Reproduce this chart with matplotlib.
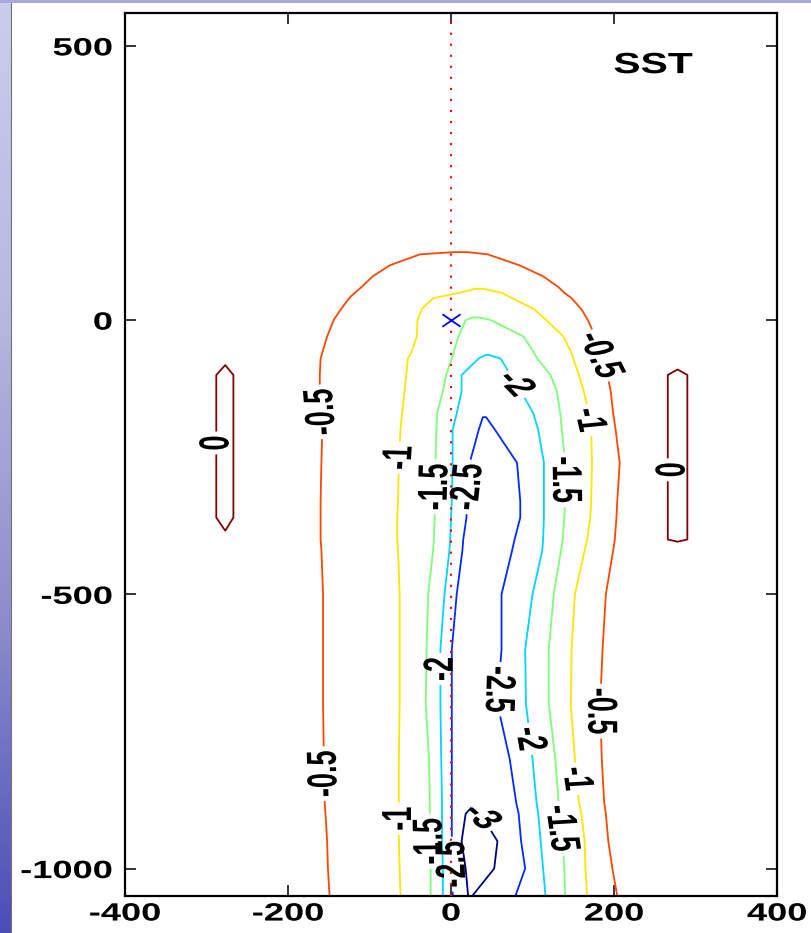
import numpy as np
import matplotlib
matplotlib.use("Agg")
import matplotlib.pyplot as plt
from matplotlib.patheffects import AbstractPathEffect
from matplotlib.transforms import Affine2D
from matplotlib.path import Path
from matplotlib.colors import LinearSegmentedColormap
from matplotlib.lines import Line2D

plt.rcParams["font.family"] = "Liberation Sans"
plt.rcParams["axes.unicode_minus"] = False

nan = np.nan

# along-track distance of each cross-track profile (km), top to bottom
row_y = [560, 128, 120, 100, 80, 60, 50, 40, 20, 0, -30, -60, -70, -100, -130, -170,
         -200, -260, -330, -360, -400, -420, -500, -600, -700, -800, -880, -900, -950,
         -1000, -1050]

# cross-track position (km) where each profile reaches a given SST anomaly,
# west (w) and east (e) of the cold wake
x_m05_w = [nan, nan, -38, -75, -96, -110, -118, -125, -135, -144, -152, -158, -160, -161,
           -161, -159, -158, -159, -160, -160, -160, -159, -157, -157, -157, -156, -155,
           -154, -152, -151, -149]
x_m05_e = [nan, nan, 45, 84, 113, 132, 139, 148, 160, 168, 177, 183, 185, 192, 196, 199,
           202, 207, 204, 203, 201, 199, 190, 186, 183, 185, 188, 190, 193, 198, 204]
x_m10_w = [nan, nan, nan, nan, nan, nan, 11, -22, -36, -41, -42, -49, -53, -55, -57, -60,
           -62, -64, -65, -66, -66, -65, -63, -63, -63, -64, -64, -64, -64, -63, -62]
x_m10_e = [nan, nan, nan, nan, nan, nan, 62, 75, 102, 117, 138, 148, 150, 157, 163, 169,
           172, 173, 172, 171, 167, 164, 152, 148, 147, 152, 157, 160, 164, 165, 167]
x_m15_w = [nan, nan, nan, nan, nan, nan, nan, nan, nan, 18, 9, 3, 1, -6, -10, -17,
           -18, -19, -20, -20, -21, -22, -28, -30, -31, -27, -26, -26, -26, -25, -25]
x_m15_e = [nan, nan, nan, nan, nan, nan, nan, nan, nan, 49, 89, 102, 106, 122, 130, 134,
           136, 140, 140, 139, 137, 135, 126, 120, 120, 128, 132, 134, 137, 139, 140]
x_m20_w = [nan, nan, nan, nan, nan, nan, nan, nan, nan, nan, nan, nan, 34, 13, 13, 7,
           2, 2, 1, 0, -1, -2, -8, -13, -13, -12, -11, -11, -11, -10, -10]
x_m20_e = [nan, nan, nan, nan, nan, nan, nan, nan, nan, nan, nan, nan, 61, 73, 86, 101,
           107, 114, 114, 114, 113, 112, 100, 91, 92, 100, 105, 107, 110, 113, 116]
x_m25_w = [nan, nan, nan, nan, nan, nan, nan, nan, nan, nan, nan, nan, nan, nan, nan, nan,
           34, 23, 19, 19, 15, 14, 7, 1, 1, 1, 1, 1, 1, 2, 2]
x_m25_e = [nan, nan, nan, nan, nan, nan, nan, nan, nan, nan, nan, nan, nan, nan, nan, nan,
           54, 81, 85, 85, 78, 75, 62, 62, 57, 72, 80, 83, 86, 91, 79]
x_m30_w = [nan, nan, nan, nan, nan, nan, nan, nan, nan, nan, nan, nan, nan, nan, nan, nan,
           nan, nan, nan, nan, nan, nan, nan, nan, nan, nan, nan, 18, 13, 18, 21]
x_m30_e = [nan, nan, nan, nan, nan, nan, nan, nan, nan, nan, nan, nan, nan, nan, nan, nan,
           nan, nan, nan, nan, nan, nan, nan, nan, nan, nan, nan, 36, 57, 53, 26]

# SST anomaly at the centre of the wake in each profile
core_sst = [-0.2, -0.45, -0.55, -0.65, -0.75, -0.98, -1.05, -1.1, -1.2, -1.6, -1.75,
            -1.97, -2.05, -2.15, -2.3, -2.47, -2.6, -2.7, -2.75, -2.75, -2.8, -2.8, -2.8,
            -2.8, -2.8, -2.85, -2.95, -3.1, -3.2, -3.2, -3.05]

# small warm patches either side of the track
west_patch_x = [-288, -277, -267]
east_patch_x = [266, 278, 290]
west_patch_sst = [-0.2] * 13 + [0.3] * 7 + [-0.2] * 11
east_patch_sst = [-0.2] * 13 + [0.1] + [0.3] * 6 + [0.05] + [-0.2] * 10
ambient_sst = -0.2

levels = [-3, -2.5, -2, -1.5, -1, -0.5, 0]
label_pos = [(-158, -167), (-158, -827), (184, -64), (184, -713),
             (-63, -251), (-66, -909), (171, -182), (156, -836),
             (-19, -304), (-27, -950), (141, -291), (133, -927),
             (82, -115), (-12, -636), (95, -764),
             (21, -304), (1, -992), (56, -673),
             (40, -905),
             (-288, -224), (266, -273)]


class Widen(AbstractPathEffect):
    """Draw text stretched sideways."""

    def __init__(self, sx=1.45, anchor="center"):
        super().__init__()
        self.sx = sx
        self.anchor = anchor

    def draw_path(self, renderer, gc, tpath, affine, rgbFace=None):
        verts = tpath.vertices
        if tpath.codes is not None:
            verts = verts[tpath.codes != Path.CLOSEPOLY]
        if len(verts) == 0:
            return
        px = affine.transform(verts)[:, 0]
        x0 = px.max() if self.anchor == "right" else 0.5 * (px.min() + px.max())
        stretch = Affine2D().translate(-x0, 0).scale(self.sx, 1).translate(x0, 0)
        renderer.draw_path(gc, tpath, affine + stretch, rgbFace)


# build a curvilinear grid from the profiles; levels a profile never reaches
# take their cross-track spacing from the profile below it
west_sets = [x_m05_w, x_m10_w, x_m15_w, x_m20_w, x_m25_w, x_m30_w]
east_sets = [x_m30_e, x_m25_e, x_m20_e, x_m15_e, x_m10_e, x_m05_e]
west_vals = [-0.5, -1, -1.5, -2, -2.5, -3]
east_vals = [-3, -2.5, -2, -1.5, -1, -0.5]

n_rows = len(row_y)
inner_x = [None] * n_rows
inner_z = [None] * n_rows
for j in reversed(range(n_rows)):
    xs = np.array([-235] + [s[j] for s in west_sets] + [nan]
                  + [s[j] for s in east_sets] + [235], float)
    zs = np.array([ambient_sst] + west_vals + [core_sst[j]] + east_vals + [ambient_sst], float)
    miss = np.isnan(xs)
    zs[miss] = core_sst[j]
    idx = np.where(miss)[0]
    lo, hi = idx[0] - 1, idx[-1] + 1
    if j == n_rows - 1:
        xs[idx] = np.linspace(xs[lo], xs[hi], len(idx) + 2)[1:-1]
    else:
        ref = inner_x[j + 1]
        t = (ref[idx] - ref[lo]) / (ref[hi] - ref[lo])
        xs[idx] = xs[lo] + t * (xs[hi] - xs[lo])
    inner_x[j] = xs
    inner_z[j] = zs

X, Y, Z = [], [], []
for j, y in enumerate(row_y):
    wc, ec = west_patch_sst[j], east_patch_sst[j]
    ws = 0.0 if wc > 0 else wc
    es = 0.0 if ec > 0 else ec
    row_x = [-400, -310] + west_patch_x + list(inner_x[j]) + east_patch_x + [310, 400]
    row_z = ([ambient_sst, ambient_sst, ws, wc, ws] + list(inner_z[j])
             + [es, ec, es, ambient_sst, ambient_sst])
    X.append(row_x)
    Y.append([y] * len(row_x))
    Z.append(row_z)

X, Y, Z = np.array(X), np.array(Y), np.array(Z)

fig = plt.figure(figsize=(8.11, 9.33), dpi=100)

# slide background strip on the left and along the top
strip = fig.add_axes([0, 0, 11 / 811, 1])
grad = LinearSegmentedColormap.from_list(
    "slide", [(0.30, 0.30, 0.72), (0.55, 0.55, 0.80), (0.72, 0.72, 0.88), (0.80, 0.80, 0.93)])
strip.imshow(np.linspace(0, 1, 256)[:, None], cmap=grad, aspect="auto",
             origin="lower", extent=[0, 1, 0, 1])
strip.set_axis_off()
fig.add_artist(plt.Rectangle((0, 930 / 933), 1, 3 / 933, transform=fig.transFigure,
                             color=(0.66, 0.66, 0.87), lw=0))
fig.add_artist(Line2D([10.5 / 811] * 2, [0, 930 / 933], transform=fig.transFigure,
                      color="0.45", lw=0.8))

ax = fig.add_axes([125 / 811, 37 / 933, 652 / 811, 883 / 933])
cs = ax.contour(X, Y, Z, levels=levels, cmap="jet", linewidths=1.3, linestyles="solid")
ax.clabel(cs, levels, inline=True, fmt="%g", fontsize=19.5, colors="k",
          manual=label_pos, inline_spacing=4)
for t in cs.labelTexts:
    t.set_fontweight("bold")
    t.set_path_effects([Widen(1.55)])
    # labels read upward on the west branch of a contour, downward on the east branch
    rot = t.get_rotation() % 360
    if t.get_position()[0] < 30:
        if rot > 180:
            rot -= 180
    elif rot < 180:
        rot += 180
    t.set_rotation(rot)

ax.axvline(0, color="red", lw=1.5, ls=(0, (1, 4.3)), zorder=3)
xmark = Path([(-1.45, -1), (1.45, 1), (-1.45, 1), (1.45, -1)],
             [Path.MOVETO, Path.LINETO, Path.MOVETO, Path.LINETO])
ax.plot([0], [0], marker=xmark, ms=13, mew=1.3, color="blue", mfc="none", ls="none", zorder=4)

ax.text(248, 465, "SST", fontsize=21, fontweight="bold", ha="center", va="center",
        path_effects=[Widen(1.4)])

ax.set_xlim(-400, 400)
ax.set_ylim(-1050, 560)
ax.set_xticks([-400, -200, 0, 200, 400])
ax.set_yticks([-1000, -500, 0, 500])
ax.tick_params(direction="in", length=8, width=1.1, top=True, right=True, labelsize=18)
ax.tick_params(axis="x", pad=4)
ax.tick_params(axis="y", pad=9)
for sp in ax.spines.values():
    sp.set_linewidth(1.6)
for lab in ax.get_xticklabels():
    lab.set_fontweight("bold")
    lab.set_path_effects([Widen(1.45)])
for lab in ax.get_yticklabels():
    lab.set_fontweight("bold")
    lab.set_path_effects([Widen(1.45, anchor="right")])

fig.savefig("out.png", dpi=100)
